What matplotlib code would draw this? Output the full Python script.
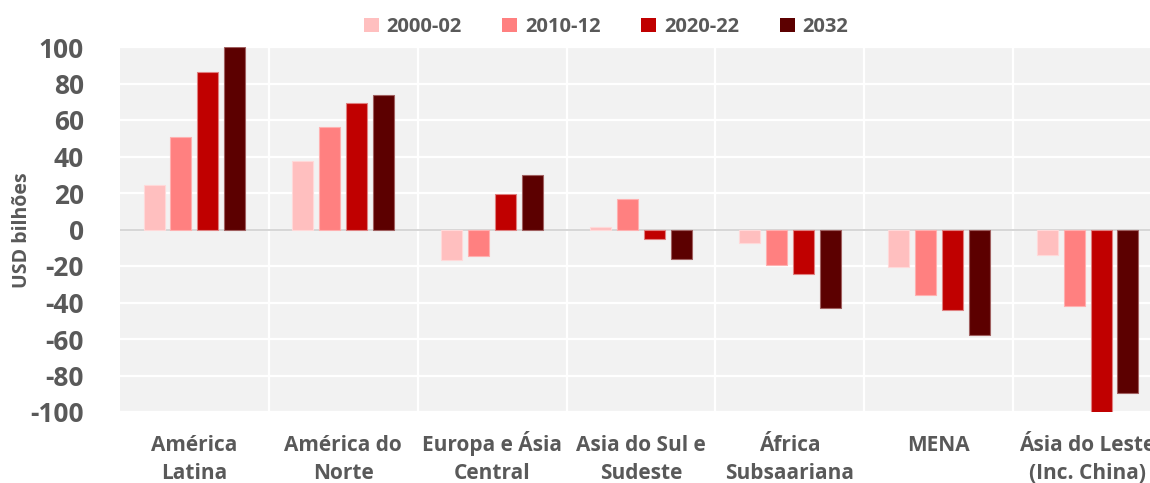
"""Saldo comercial por região (USD bilhões) — barras agrupadas por período."""

import matplotlib
matplotlib.use("Agg")
import matplotlib.pyplot as plt
import matplotlib.transforms as mtransforms
import numpy as np
from matplotlib.patches import Patch

regions = [
    "América\nLatina",
    "América do\nNorte",
    "Europa e Ásia\nCentral",
    "Asia do Sul e\nSudeste",
    "África\nSubsaariana",
    "MENA",
    "Ásia do Leste\n(Inc. China)",
]
periods = ["2000-02", "2010-12", "2020-22", "2032"]

v_2000_02 = [24.3, 37.4, -16.5, 1.6, -7.3, -20.6, -14.0]
v_2010_12 = [50.8, 56.0, -14.5, 16.6, -19.2, -36.0, -42.0]
v_2020_22 = [86.2, 69.4, 19.5, -5.3, -24.6, -44.3, -101.0]
v_2032 = [100.0, 73.6, 29.8, -15.9, -43.0, -58.0, -89.4]

colors = ["#FFBFBF", "#FF8080", "#C00000", "#5C0000"]
edges = ["#FFD9D9", "#FFB0B0", "#E08080", "#A06060"]

plt.rcParams["font.family"] = ["Open Sans", "DejaVu Sans"]
plt.rcParams["axes.unicode_minus"] = False
grey = "#595959"

fig = plt.figure(figsize=(11.5, 4.83), dpi=100)
# plot area runs a little past the right edge of the picture, like the source
ax = fig.add_axes([120 / 1150, 71 / 483, 1042 / 1150, 365 / 483])
ax.set_facecolor("#F2F2F2")

x = np.arange(len(regions))
width = 0.141
step = 0.181
series = [v_2000_02, v_2010_12, v_2020_22, v_2032]
for i, vals in enumerate(series):
    ax.bar(x + (i - 1.5) * step, vals, width, color=colors[i],
           edgecolor=edges[i], linewidth=0.8, zorder=3)

ax.set_xlim(-0.5, len(regions) - 0.5)
ax.set_ylim(-100, 100)
ax.set_yticks(np.arange(-100, 101, 20))
ax.yaxis.grid(True, color="white", linewidth=1.6, zorder=1)
for b in np.arange(0.5, len(regions) - 0.5, 1):
    ax.axvline(b, color="white", linewidth=1.6, zorder=1)
ax.axhline(0, color="#D0D0D0", linewidth=1.2, zorder=2)

for s in ax.spines.values():
    s.set_visible(False)
ax.tick_params(length=0)
ax.tick_params(axis="y", pad=26, labelsize=19, labelcolor=grey)
for t in ax.get_yticklabels():
    t.set_fontweight("bold")

# category labels: each line on its own baseline so accents don't shift them
ax.set_xticks(x)
ax.set_xticklabels([])
base = ax.get_xaxis_transform()
for xi, lab in zip(x, regions):
    for k, line in enumerate(lab.split("\n")):
        tr = mtransforms.offset_copy(base, fig=fig, x=0, y=-(39 + 28 * k), units="dots")
        ax.text(xi, 0, line, transform=tr, ha="center", va="baseline",
                fontsize=15, fontweight="bold", color=grey, clip_on=False)

fig.text(22 / 1150, 1 - 230 / 483, "USD bilhões", rotation=90, ha="center",
         va="center", fontsize=14, fontweight="bold", color=grey)

handles = [Patch(facecolor=c, edgecolor="none") for c in colors]
leg = fig.legend(handles, periods, loc="center", ncol=4,
                 bbox_to_anchor=(606 / 1150, 1 - 27 / 483), frameon=False,
                 prop={"weight": "bold", "size": 14.5}, handlelength=0.75,
                 handleheight=0.75, handletextpad=0.4, columnspacing=2.0)
for t in leg.get_texts():
    t.set_color(grey)

fig.savefig("out.png", dpi=100)
